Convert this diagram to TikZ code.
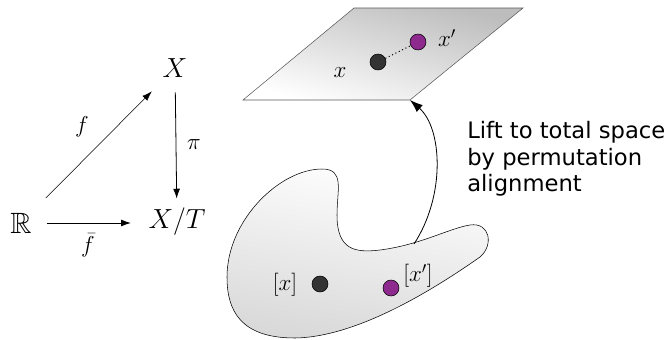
\documentclass[tikz,border=0pt]{standalone}
\usepackage{amsmath,amssymb}
\usepackage{fontspec}
\newfontfamily\liftfont{DejaVu Sans}
\usetikzlibrary{arrows.meta}
\definecolor{plum}{HTML}{8E2A8E}

\begin{document}
\begin{tikzpicture}[x=0.75pt, y=-0.75pt, >={Latex[length=2.6mm, width=1.8mm]}, big/.style={font=\fontsize{22}{26}\selectfont, inner sep=1pt}, lb/.style={font=\fontsize{17}{20}\selectfont, inner sep=1pt}, bk/.style={draw, circle, fill=black!80, minimum size=12pt, inner sep=0pt}, pu/.style={draw, circle, fill=plum, minimum size=12pt, inner sep=0pt}]
	\useasboundingbox (0,0) rectangle (666,339);
	% commutative triangle
	\node[big] (X) at (175,68) {$X$};
	\node[big] (XT) at (177,222) {$X/T$};
	\node[big] (R) at (21,223) {$\mathbb{R}$};
	\draw[->, thin, shorten <=14pt, shorten >=13pt] (R) -- (X);
	\node[lb] (f) at (82,127) {$f$};
	\draw[->, semithick, shorten <=10pt, shorten >=6pt] (X) -- (XT);
	\node[lb] (pi) at (194,145) {$\pi$};
	\draw[->, semithick, shorten <=10pt, shorten >=12pt] (R.east) -- (R.east -| XT.west);
	\node[lb] (fbar) at (88,245) {$\bar{f}$};
	% total space
	\coordinate (p1) at (243,100); \coordinate (p2) at (354,8); \coordinate (p3) at (523,8); \coordinate (p4) at (410,100);
	\path[draw=black!65, left color=black!26, right color=white, shading angle=-15] (p1) -- (p2) -- (p3) -- (p4) -- cycle;
	\node[bk] (x) at (378,62) {};
	\node[pu] (xp) at (418,42) {};
	\draw[dotted, thick] (x) -- (xp);
	\node[lb] (xl) at (340,73) {$x$};
	\node[lb] (xpl) at (447,38) {$x'$};
	% quotient space
	\path[draw, top color=white, bottom color=black!15, shading angle=-10] (227,277) .. controls (227,220) and (280,169) .. (322,169) .. controls (345,169) and (337,190) .. (337,215) .. controls (337,250) and (355,253) .. (380,250) .. controls (420,245) and (450,228) .. (470,225) .. controls (490,222) and (494,245) .. (480,257) .. controls (440,285) and (360,337) .. (295,338) .. controls (240,338) and (227,310) .. (227,277) -- cycle;
	\node[bk] (cx) at (320,284) {};
	\node[pu] (cxp) at (391,288) {};
	\node[lb] (cxl) at (285,285) {$[x]$};
	\node[lb] (cxpl) at (418,276) {$[x']$};
	% lift
	\coordinate (ls) at (414,244);
	\draw[->, semithick, >={Latex[length=3.4mm, width=2.4mm]}] (ls) .. controls (446,195) and (442,128) .. (p4);
	\node[anchor=north west, align=left, inner sep=0pt, font=\liftfont\fontsize{17}{20}\selectfont] (lift) at (467,121) {Lift to total space\\by permutation\\alignment};
\end{tikzpicture}
\end{document}
